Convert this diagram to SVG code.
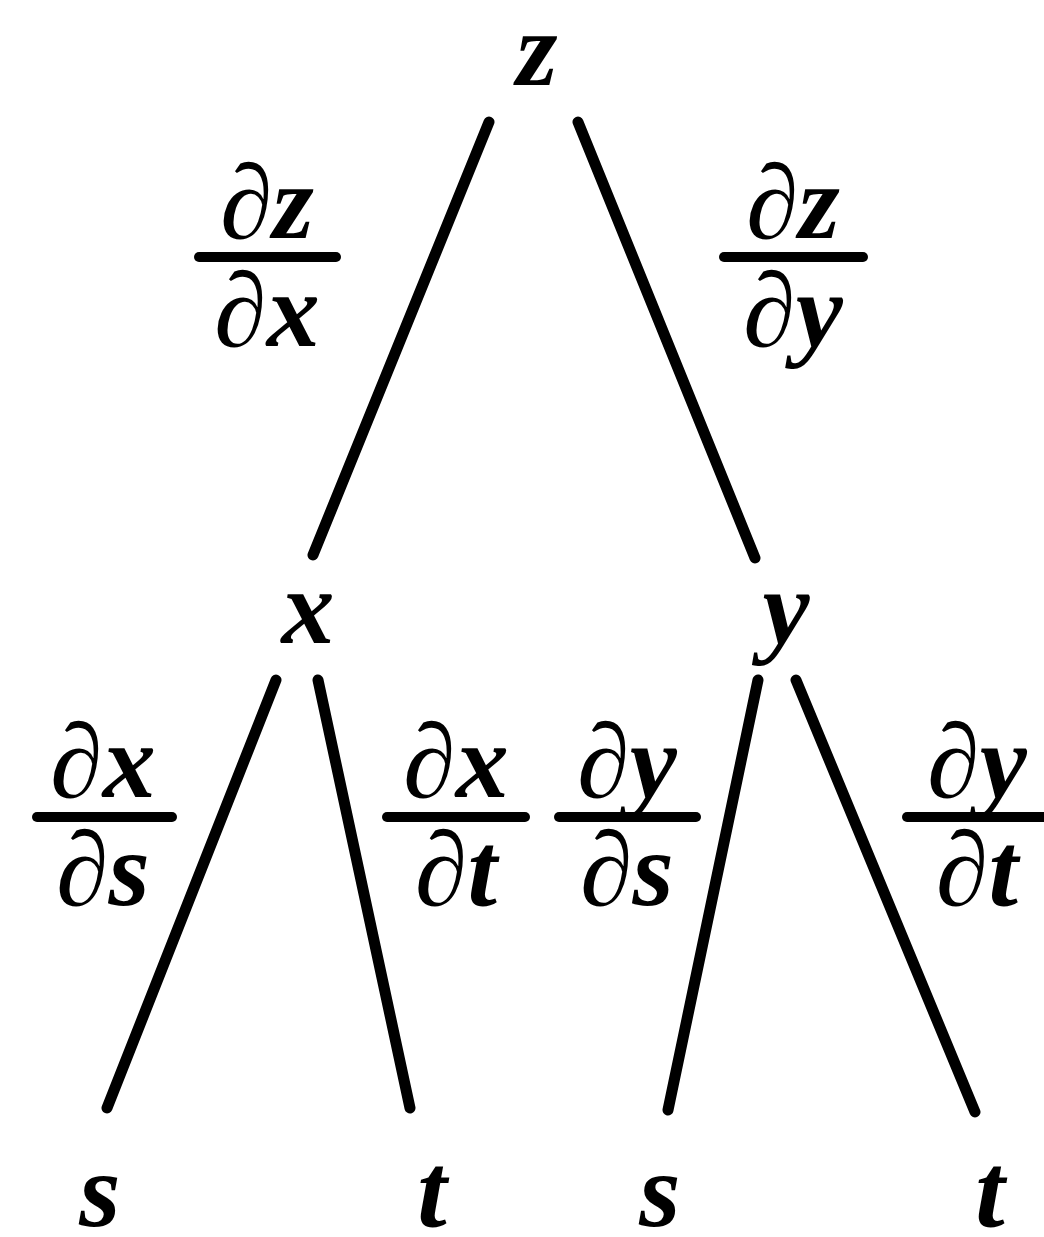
<svg xmlns="http://www.w3.org/2000/svg" width="1044" height="1237" viewBox="0 0 1044 1237">
<style>
text{font-family:"Liberation Serif","Times New Roman",serif;font-weight:bold;font-style:italic;font-size:106px;fill:#000;text-anchor:middle}
.edge{stroke:#000;stroke-width:11;stroke-linecap:round;fill:none}
.bar{stroke:#000;stroke-width:10;stroke-linecap:round}
</style>
<rect width="1044" height="1237" fill="#fff"/>
<g id="connectors">
<line class="edge" x1="489" y1="122" x2="313" y2="555"/>
<line class="edge" x1="578" y1="122" x2="755" y2="558"/>
<line class="edge" x1="276" y1="680" x2="107" y2="1108"/>
<line class="edge" x1="318" y1="680" x2="410" y2="1108"/>
<line class="edge" x1="758" y1="680" x2="668" y2="1110"/>
<line class="edge" x1="796" y1="680" x2="975" y2="1112"/>
</g>
<g id="node-z"><text x="537" y="85">z</text></g>
<g id="node-x"><text x="308" y="643">x</text></g>
<g id="node-y"><text x="786" y="643">y</text></g>
<g id="node-s1"><text x="100" y="1226">s</text></g>
<g id="node-t1"><text x="432" y="1226">t</text></g>
<g id="node-s2"><text x="660" y="1226">s</text></g>
<g id="node-t2"><text x="990" y="1226">t</text></g>
<g id="label-dzdx"><text x="267" y="238">∂z</text><line class="bar" x1="199" y1="257" x2="336" y2="257"/><text x="267" y="346">∂x</text></g>
<g id="label-dzdy"><text x="793" y="238">∂z</text><line class="bar" x1="724" y1="257" x2="863" y2="257"/><text x="793" y="346">∂y</text></g>
<g id="label-dxds"><text x="103" y="797">∂x</text><line class="bar" x1="37" y1="817" x2="172" y2="817"/><text x="103" y="905">∂s</text></g>
<g id="label-dxdt"><text x="456" y="797">∂x</text><line class="bar" x1="387" y1="817" x2="525" y2="817"/><text x="456" y="905">∂t</text></g>
<g id="label-dyds"><text x="627" y="797">∂y</text><line class="bar" x1="559" y1="817" x2="696" y2="817"/><text x="627" y="905">∂s</text></g>
<g id="label-dydt"><text x="977" y="797">∂y</text><line class="bar" x1="907" y1="817" x2="1050" y2="817"/><text x="977" y="905">∂t</text></g>
</svg>
